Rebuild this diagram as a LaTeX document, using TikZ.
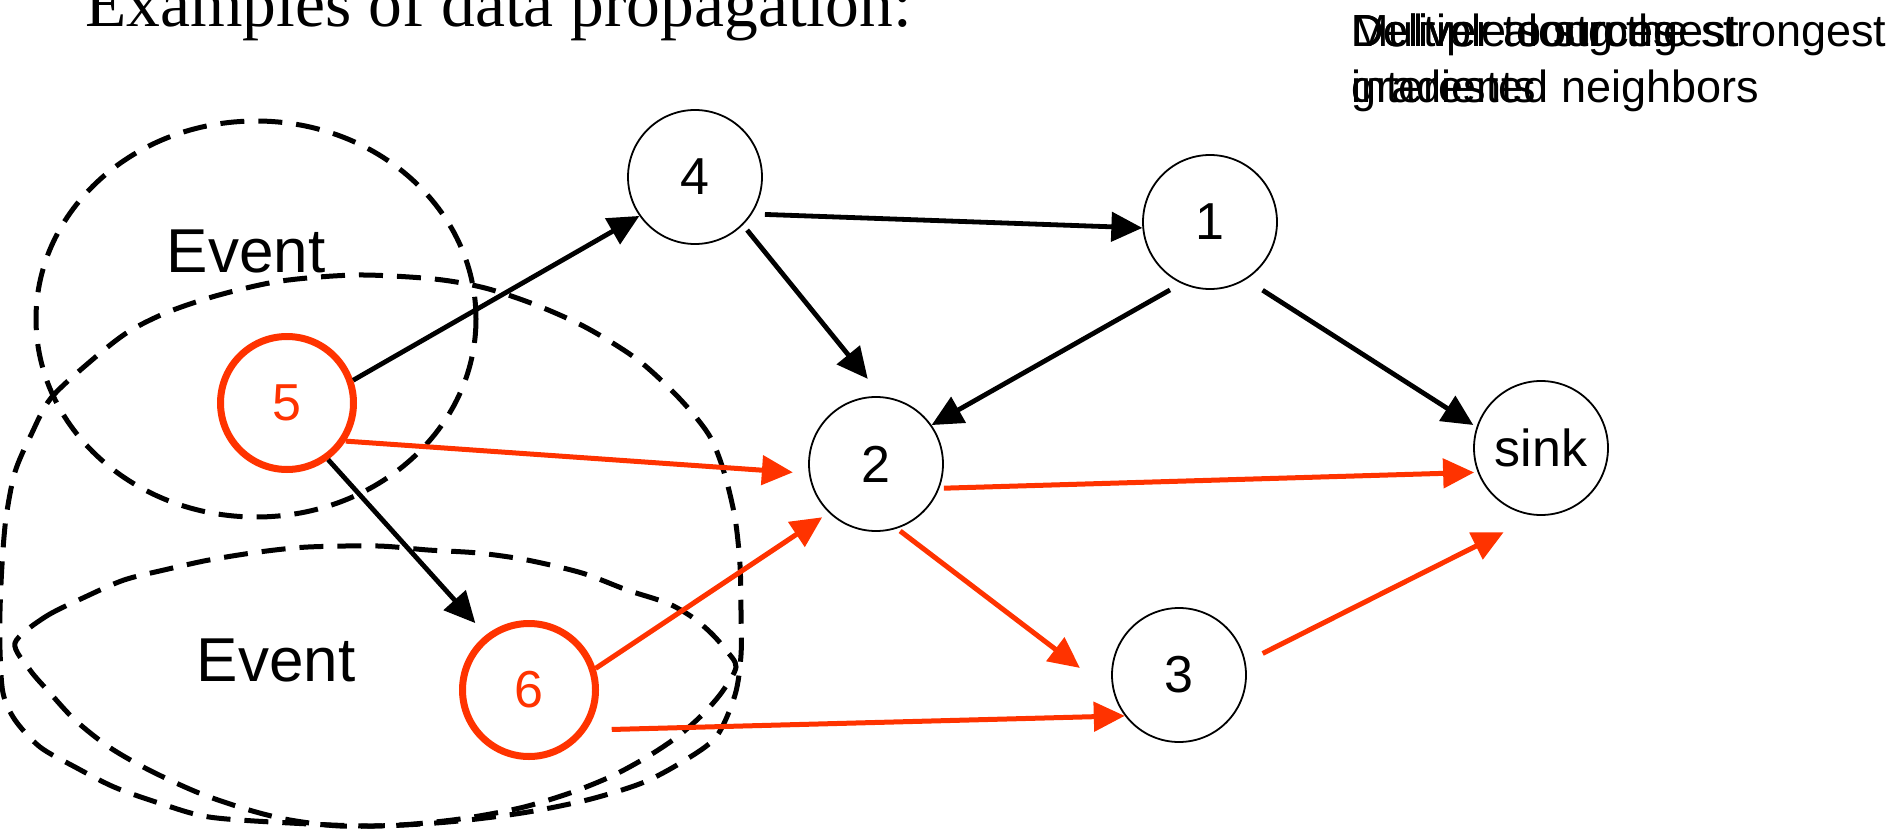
\documentclass[tikz,border=0pt]{standalone}
\usepackage{fontspec}
\setmainfont{Liberation Serif}
\newfontfamily\sansfam{Liberation Sans}
\usetikzlibrary{arrows.meta}
\definecolor{hotred}{RGB}{255,51,0}

\begin{document}
\begin{tikzpicture}[x=1pt,y=-1pt,
  quietnode/.style={circle, draw=black, line width=1.8pt, fill=white,
    minimum size=134pt, inner sep=0pt, font=\sansfam\fontsize{52}{52}\selectfont},
  hotnode/.style={circle, draw=hotred, line width=7pt, fill=white,
    minimum size=133pt, inner sep=0pt, text=hotred,
    font=\sansfam\fontsize{52}{52}\selectfont},
  blackflow/.style={draw=black, line width=4.8pt, -{Triangle[length=31pt,width=29pt]}},
  redflow/.style={draw=hotred, line width=5pt, -{Triangle[length=31pt,width=29pt]}},
  eventzone/.style={draw=black, line width=5pt, dash pattern=on 24pt off 14pt},
  eventtext/.style={font=\sansfam\fontsize{62}{62}\selectfont, anchor=base, inner sep=0pt},
  remark/.style={font=\sansfam\fontsize{45}{45}\selectfont, anchor=base west, inner sep=0pt},
  headline/.style={anchor=base west, inner sep=0pt, font=\fontsize{67.5}{67.5}\selectfont}
]
\useasboundingbox (0,0) rectangle (1895,829);
\fill[white] (0,0) rectangle (1895,829);

% event regions
\draw[eventzone] (256,319) ellipse [x radius=220, y radius=198];
\draw[eventzone] plot[smooth cycle] coordinates {
  (31,435) (51,398) (92,360) (128,332) (168,312) (219,295) (281,281) (357,275)
  (434,279) (485,288) (536,305) (587,328) (638,360) (679,398) (709,435) (724,472)
  (735,518) (740,565) (741,611) (741,655) (735,695) (716,737) (682,762) (642,783)
  (587,800) (522,813) (448,822) (373,826) (290,823) (209,817) (159,803) (114,787)
  (75,767) (40,747) (15,720) (3,693) (0,650) (0,611) (2,565) (6,518) (15,472)};
\draw[eventzone] plot[smooth cycle] coordinates {
  (15,643) (45,617) (85,597) (124,580) (164,570) (209,560) (259,552) (308,547)
  (378,546) (428,550) (478,553) (527,560) (582,573) (627,590) (667,603) (692,617)
  (711,633) (726,650) (736,667) (722,692) (702,715) (677,737) (647,757) (612,776)
  (570,793) (520,808) (460,819) (400,825) (340,826) (290,820) (249,810) (199,793)
  (149,770) (109,747) (75,720) (50,693) (30,670)};

% sensor nodes
\node[quietnode] (n4) at (695,177) {4};
\node[quietnode] (n1) at (1210,222) {1};
\node[quietnode] (n2) at (876,464) {2};
\node[quietnode] (n3) at (1179,675) {3};
\node[quietnode] (sink) at (1541,448) {sink};
\node[hotnode] (n5) at (287,403) {5};
\node[hotnode] (n6) at (529,690) {6};

% gradients
\draw[blackflow] (n5.19) -- (n4.215);
\draw[blackflow, shorten <=13pt] (n4.-33) -- (n1.185);
\draw[blackflow, shorten <=6.5pt, shorten >=22.5pt] (n4.-45) -- (n2.85);
\draw[blackflow, shorten <=13pt] (n1.245) -- (n2.35);
\draw[blackflow, shorten <=19.7pt, shorten >=3.7pt] (n1.-58) -- (sink.162);
\draw[blackflow, shorten >=15.8pt] (n5.-54) -- (n6.128);

% reinforced data paths
\draw[redflow, shorten >=15.9pt] (n5.-33) -- (n2.188);
\draw[redflow, shorten >=8pt] (n6.18) -- (n2.226);
\draw[redflow, shorten <=25.4pt] (n6.-35) -- (n3.217);
\draw[redflow, shorten <=4.5pt, shorten >=3.5pt] (n2.-21) -- (sink.201);
\draw[redflow, shorten <=4pt, shorten >=42.5pt] (n2.-72) -- (n3.196);
\draw[redflow, shorten <=19pt, shorten >=36.5pt] (n3.11) -- (sink.266);

% labels
\node[eventtext] (ev1) at (246,272) {Event};
\node[eventtext] (ev2) at (276,681) {Event};

\node[headline] (title) at (85,27) {Examples of data propagation:};

\node[remark] (r1) at (1351,47) {Multiple sources};
\node[remark] (r2) at (1351,47) {Deliver along the strongest};
\node[remark] (r3) at (1351,47) {Deliver to strongest};
\node[remark] (r4) at (1351,103) {gradients};
\node[remark] (r5) at (1351,103) {interested neighbors};
\end{tikzpicture}
\end{document}
